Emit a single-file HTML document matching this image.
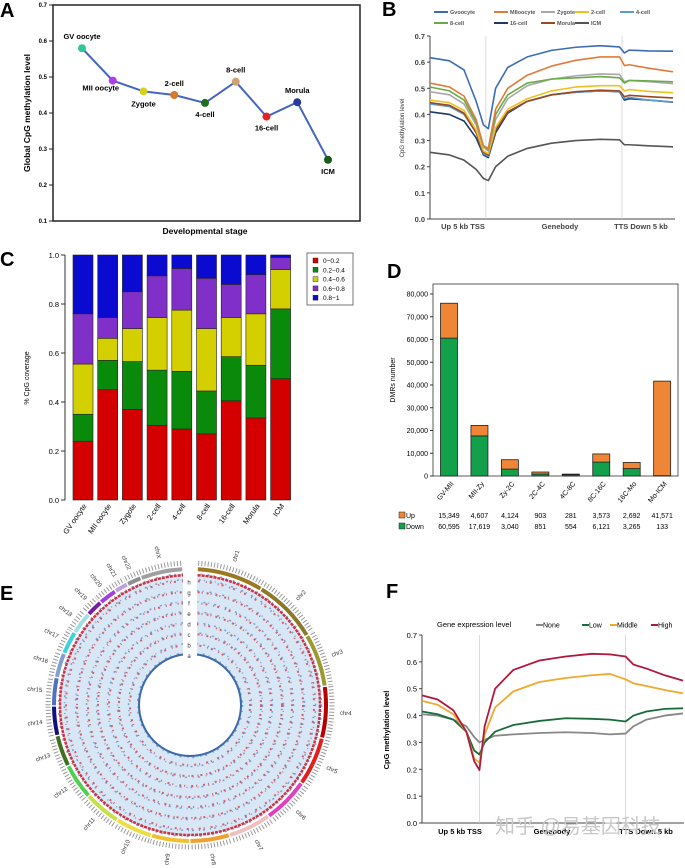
<!DOCTYPE html>
<html><head><meta charset="utf-8"><style>
body{margin:0;background:#fff}
svg{display:block;font-family:"Liberation Sans",Arial,sans-serif}
</style></head><body>
<svg id="fig" width="685" height="868" viewBox="0 0 685 868" xmlns="http://www.w3.org/2000/svg">
<g id="gA"></g>
<g id="gB"></g>
<g id="gC"></g>
<g id="gD"></g>
<g id="gE"></g>
<g id="gF"></g>
<text x="495" y="833" font-size="20" fill="#c8c8c8" font-family="'Liberation Sans','Noto Sans CJK SC',sans-serif">知乎 @易基因科技</text>
</svg>
<script>
// ---- Panel A data
const stagesA = ["GV oocyte","MII oocyte","Zygote","2-cell","4-cell","8-cell","16-cell","Morula","ICM"];
const valuesA = [0.58,0.49,0.46,0.45,0.428,0.487,0.39,0.43,0.27];
const colorsA = ["#2ec99a","#b23ce8","#d8d020","#d8782a","#1e6e1e","#d0a070","#e82020","#2a3a9a","#1a5a1a"];
const ticksA = [0.1,0.2,0.3,0.4,0.5,0.6,0.7];
// ---- Panel B data
const binsB = [0,8,14,19,22,24,27,32,40,50,60,70,78,80,82,90,100];
const seriesNamesB = ["Gvoocyte","MIIoocyte","Zygote","2-cell","4-cell","8-cell","16-cell","Morula","ICM"];
const gvB = [0.617,0.605,0.57,0.45,0.36,0.345,0.50,0.58,0.62,0.645,0.657,0.663,0.658,0.635,0.646,0.643,0.642];
const miiB = [0.52,0.505,0.47,0.38,0.28,0.27,0.42,0.50,0.55,0.585,0.607,0.62,0.62,0.587,0.59,0.577,0.563];
const zygB = [0.487,0.475,0.44,0.36,0.275,0.26,0.38,0.46,0.51,0.535,0.548,0.555,0.553,0.525,0.53,0.525,0.518];
const c2B = [0.455,0.445,0.415,0.34,0.26,0.25,0.35,0.42,0.46,0.49,0.505,0.51,0.51,0.49,0.495,0.488,0.483];
const c4B = [0.44,0.43,0.40,0.33,0.25,0.24,0.34,0.41,0.45,0.475,0.485,0.49,0.488,0.46,0.465,0.455,0.448];
const c8B = [0.505,0.49,0.455,0.37,0.28,0.265,0.40,0.475,0.52,0.535,0.54,0.545,0.54,0.52,0.53,0.528,0.525];
const c16B = [0.41,0.40,0.375,0.31,0.245,0.235,0.33,0.405,0.45,0.475,0.485,0.49,0.487,0.455,0.46,0.455,0.447];
const morB = [0.445,0.435,0.405,0.33,0.255,0.245,0.34,0.41,0.45,0.475,0.487,0.493,0.49,0.468,0.473,0.468,0.463];
const icmB = [0.255,0.245,0.225,0.19,0.155,0.147,0.20,0.24,0.27,0.29,0.30,0.305,0.303,0.284,0.284,0.28,0.276];
const colorsB = ["#3b6cb4","#e07b39","#a8a8a8","#f2c01e","#5b9bd5","#6aab45","#1f3864","#9a4a1e","#555555"];
const ticksB = [0,0.1,0.2,0.3,0.4,0.5,0.6,0.7];
// ---- Panel C data
const stagesC = ["GV oocyte","MII oocyte","Zygote","2-cell","4-cell","8-cell","16-cell","Morula","ICM"];
const c0_02 = [0.24,0.45,0.37,0.305,0.29,0.27,0.405,0.335,0.495];
const c02_04 = [0.11,0.12,0.195,0.225,0.235,0.175,0.18,0.215,0.285];
const c04_06 = [0.205,0.09,0.135,0.215,0.25,0.255,0.16,0.21,0.16];
const c06_08 = [0.205,0.085,0.15,0.17,0.17,0.205,0.135,0.16,0.05];
const c08_1 = [0.24,0.255,0.15,0.085,0.055,0.095,0.12,0.08,0.01];
const legendC = ["0\u22120.2","0.2\u22120.4","0.4\u22120.6","0.6\u22120.8","0.8\u22121"];
const colorsC = ["#d40000","#0a8a0a","#d4d000","#8030c8","#0a0ad0"];
const ticksC = [0,0.2,0.4,0.6,0.8,1.0];
// ---- Panel D data
const catsD = ["GV-MII","MII-Zy","Zy-2C","2C-4C","4C-8C","8C-16C","16C-Mo","Mo-ICM"];
const upD = [15349,4607,4124,903,281,3573,2692,41571];
const downD = [60595,17619,3040,851,554,6121,3265,133];
const upLabD = ["15,349","4,607","4,124","903","281","3,573","2,692","41,571"];
const downLabD = ["60,595","17,619","3,040","851","554","6,121","3,265","133"];
const ticksD = [0,10000,20000,30000,40000,50000,60000,70000,80000];
// ---- Panel E data
const chrNames = ["chr1","chr2","chr3","chr4","chr5","chr6","chr7","chr8","chr9","chr10","chr11","chr12","chr13","chr14","chr15","chr16","chr17","chr18","chr19","chr20","chr21","chr22","chrX"];
const chrLens = [249,243,198,191,181,171,159,146,141,136,135,133,115,107,102,90,83,80,59,64,47,51,156];
const chrColors = ["#9a7a20","#8a7a28","#9a9a30","#b80000","#e02020","#e040c0","#f0c0c0","#f0a030","#f0c030","#e8e040","#c8e040","#50d050","#407020","#101080","#5070c0","#80a0d0","#40d0e0","#a0e0e0","#7020a0","#a040e0","#c0a0e0","#909090","#a0a0a0"];
// ---- Panel F data
const binsF = [0,6,12,17,20,22,24,28,35,45,55,65,72,78,81,86,93,100];
const namesF = ["None","Low","Middle","High"];
const noneF = [0.405,0.40,0.385,0.36,0.32,0.30,0.31,0.325,0.33,0.335,0.338,0.335,0.33,0.333,0.36,0.385,0.40,0.408];
const lowF = [0.415,0.405,0.385,0.34,0.27,0.255,0.30,0.34,0.365,0.38,0.39,0.388,0.385,0.378,0.40,0.415,0.425,0.427];
const midF = [0.455,0.44,0.405,0.34,0.24,0.225,0.33,0.43,0.49,0.525,0.54,0.55,0.555,0.535,0.52,0.51,0.495,0.483];
const highF = [0.475,0.46,0.42,0.34,0.23,0.197,0.36,0.50,0.57,0.605,0.62,0.63,0.628,0.62,0.59,0.575,0.55,0.53];
const colorsF = ["#888888","#1a6b3c","#f0a830","#b0183c"];
const ticksF = [0,0.1,0.2,0.3,0.4,0.5,0.6,0.7];

const NS="http://www.w3.org/2000/svg";
function mk(parent,tag,attrs,text){const e=document.createElementNS(NS,tag);for(const k in attrs)e.setAttribute(k,attrs[k]);if(text!==undefined)e.textContent=text;parent.appendChild(e);return e;}

// ===== Panel A
(function(){
const g=document.getElementById('gA');
const x=i=>82+i*30.75, y=v=>221-(v-0.1)/0.6*216;
let t=mk(g,'text',{x:0,y:17,'font-size':20,'font-weight':'bold'},'A');


let r=mk(g,'rect',{x:53,y:5,width:307,height:216,fill:'none',stroke:'#222','stroke-width':1.5});


ticksA.forEach(v=>{
 mk(g,'line',{x1:49,x2:53,y1:y(v),y2:y(v),stroke:'#222'});
 let tt=mk(g,'text',{x:47,y:y(v)+2,'font-size':6,'font-weight':'bold','text-anchor':'end'},v.toFixed(1));
 
 
});
let yt=mk(g,'text',{x:0,y:0,'font-size':8.5,'font-weight':'bold','text-anchor':'middle',transform:'translate(30,113) rotate(-90)'},'Global CpG methylation level');


let xt=mk(g,'text',{x:205,y:234,'font-size':8.5,'font-weight':'bold','text-anchor':'middle'},'Developmental stage');


let pts=valuesA.map((v,i)=>x(i)+','+y(v)).join(' ');
let pl=mk(g,'polyline',{points:pts,fill:'none',stroke:'#4466c0','stroke-width':2});


const lo=[[0,-9],[-12,10],[0,15],[0,-9],[0,14],[0,-9],[0,14],[0,-9],[0,14]];
valuesA.forEach((v,i)=>{
 let c=mk(g,'circle',{cx:x(i),cy:y(v),r:4,fill:colorsA[i]});
 
 
 let l=mk(g,'text',{x:x(i)+lo[i][0],y:y(v)+lo[i][1],'font-size':7.5,'font-weight':'bold','text-anchor':'middle'},stagesA[i]);
 
 
});
})();

// ===== Panel B
(function(){
const g=document.getElementById('gB');
const x=b=>430+b/100*243, y=v=>219-v/0.7*183;
let t=mk(g,'text',{x:382,y:16,'font-size':20,'font-weight':'bold'},'B');


mk(g,'line',{x1:430,x2:430,y1:36,y2:219,stroke:'#444'});
mk(g,'line',{x1:430,x2:675,y1:219,y2:219,stroke:'#444'});
mk(g,'line',{x1:x(23),x2:x(23),y1:36,y2:219,stroke:'#ccc','stroke-width':0.7});
mk(g,'line',{x1:x(79),x2:x(79),y1:36,y2:219,stroke:'#ccc','stroke-width':0.7});
ticksB.forEach(v=>{
 mk(g,'line',{x1:427,x2:430,y1:y(v),y2:y(v),stroke:'#444'});
 let tt=mk(g,'text',{x:425,y:y(v)+3,'font-size':7.5,'font-weight':'bold','fill':'#444','text-anchor':'end'},v.toFixed(1));
 
 
});
let yt=mk(g,'text',{x:0,y:0,'font-size':6,'fill':'#333','text-anchor':'middle',transform:'translate(404,128) rotate(-90)'},'CpG methylation level');


[['Up 5 kb TSS',463],['Genebody',560],['TTS  Down 5 kb',641]].forEach(a=>{
 let xl=mk(g,'text',{x:a[1],y:229,'font-size':7.5,'font-weight':'bold','fill':'#444','text-anchor':'middle','xml:space':'preserve'},a[0]);
 
 
});
const all=[gvB,miiB,zygB,c2B,c4B,c8B,c16B,morB,icmB];
const order=[8,6,4,7,3,2,5,1,0];
order.forEach(i=>{
 let pts=all[i].map((v,k)=>x(binsB[k])+','+y(v)).join(' ');
 let pl=mk(g,'polyline',{points:pts,fill:'none',stroke:colorsB[i],'stroke-width':1.6,'stroke-linejoin':'round'});
 
 
});
const lx=[434,494,541,575,620], rows=[12,23];
seriesNamesB.forEach((n,i)=>{
 const r=i<5?0:1, c=i<5?i:i-5;
 const px=[434,494,541,575,620][c];
 let le=mk(g,'g',{});
 
 
 mk(le,'line',{x1:px,x2:px+14,y1:rows[r],y2:rows[r],stroke:colorsB[i],'stroke-width':2});
 mk(le,'text',{x:px+16,y:rows[r]+2,'font-size':5.5,'font-weight':'bold','fill':'#555'},n);
});
})();

// ===== Panel C
(function(){
const g=document.getElementById('gC');
const y=v=>500-v*245;
let t=mk(g,'text',{x:0,y:266,'font-size':20,'font-weight':'bold'},'C');


mk(g,'line',{x1:65,x2:65,y1:y(0),y2:y(1),stroke:'#333'});
ticksC.forEach(v=>{
 mk(g,'line',{x1:61,x2:65,y1:y(v),y2:y(v),stroke:'#333'});
 let tt=mk(g,'text',{x:59,y:y(v)+3,'font-size':7.5,'text-anchor':'end'},v.toFixed(1));
 
 
});
let yt=mk(g,'text',{x:0,y:0,'font-size':7,'text-anchor':'middle',transform:'translate(29,378) rotate(-90)'},'% CpG coverage');


const segs=[c0_02,c02_04,c04_06,c06_08,c08_1];
stagesC.forEach((s,i)=>{
 const bx=73+i*24.7; let cum=0;
 segs.forEach((arr,k)=>{
  const v=arr[i];
  let r=mk(g,'rect',{x:bx,y:y(cum+v),width:20,height:v*245,fill:colorsC[k],stroke:'#222','stroke-width':0.6});
  
  
  cum+=v;
 });
 let xl=mk(g,'text',{x:0,y:0,'font-size':7.5,'text-anchor':'end',transform:`translate(${bx+14},506) rotate(-55)`},s);
 
 
});
let lg=mk(g,'g',{});


mk(lg,'rect',{x:307,y:253,width:46,height:52,fill:'#fff',stroke:'#555','stroke-width':0.8});
legendC.forEach((n,k)=>{
 let le=mk(lg,'g',{});
 
 
 mk(le,'rect',{x:313,y:258+k*9.3,width:5,height:5,fill:colorsC[k],stroke:'#222','stroke-width':0.4});
 mk(le,'text',{x:323,y:263+k*9.3,'font-size':6.5},n);
});
})();

// ===== Panel D
(function(){
const g=document.getElementById('gD');
const y=v=>476-v/10000*22.75, cx=i=>449+i*30.45;
let t=mk(g,'text',{x:387,y:278,'font-size':20,'font-weight':'bold'},'D');


mk(g,'rect',{x:433,y:284,width:245,height:192,fill:'none',stroke:'#333','stroke-width':0.8});
ticksD.forEach(v=>{
 mk(g,'line',{x1:430,x2:433,y1:y(v),y2:y(v),stroke:'#333'});
 let tt=mk(g,'text',{x:428,y:y(v)+2.5,'font-size':7,'text-anchor':'end'},v.toLocaleString('en-US'));
 
 
});
let yt=mk(g,'text',{x:0,y:0,'font-size':7,'text-anchor':'middle',transform:'translate(395,380) rotate(-90)'},'DMRs number');


catsD.forEach((c,i)=>{
 const d=downD[i], u=upD[i];
 let r1=mk(g,'rect',{x:cx(i)-8.5,y:y(d),width:17,height:476-y(d),fill:'#12a04a',stroke:'#222','stroke-width':0.8});
 
 
 let r2=mk(g,'rect',{x:cx(i)-8.5,y:y(d+u),width:17,height:y(d)-y(d+u),fill:'#ee8636',stroke:'#222','stroke-width':0.8});
 
 
 let xl=mk(g,'text',{x:0,y:0,'font-size':7,'text-anchor':'end',transform:`translate(${cx(i)+5},484) rotate(-50)`},c);
 
 
 let a=mk(g,'text',{x:cx(i),y:518,'font-size':7,'text-anchor':'middle'},upLabD[i]);
 
 
 let b=mk(g,'text',{x:cx(i),y:529,'font-size':7,'text-anchor':'middle'},downLabD[i]);
 
 
});
mk(g,'rect',{x:399,y:512,width:6,height:6,fill:'#ee8636',stroke:'#222','stroke-width':0.5});
mk(g,'text',{x:406,y:518,'font-size':7},'Up');
mk(g,'rect',{x:399,y:523,width:6,height:6,fill:'#12a04a',stroke:'#222','stroke-width':0.5});
mk(g,'text',{x:406,y:529,'font-size':7},'Down');
})();

// ===== Panel E (circos)
(function(){
const g=document.getElementById('gE');
const CX=190, CY=705;
let t=mk(g,'text',{x:0,y:600,'font-size':20,'font-weight':'bold'},'E');


let disc=mk(g,'circle',{cx:CX,cy:CY,r:91,fill:'none',stroke:'#d8e7f5','stroke-width':80});


const radii=[51,60,71,81,92,102,113,124,130];
radii.forEach((r,k)=>{
 const red=mk(g,'circle',{cx:CX,cy:CY,r:r,fill:'none',stroke:'#d03040','stroke-width':k==8?2.5:2,'stroke-dasharray':k==8?'3 1':(k%2?'1 3 2 6':'2 2 1 4'),opacity:k==8?1:0.75});
 
 
 const blue=mk(g,'circle',{cx:CX,cy:CY,r:r+1.5,fill:'none',stroke:'#4070b0','stroke-width':1.5,'stroke-dasharray':(k%2?'1 5 2 3':'2 4 1 6'),opacity:0.6});
 
 
});
mk(g,'circle',{cx:CX,cy:CY,r:51,fill:'none',stroke:'#3a6ab0','stroke-width':2});
mk(g,'circle',{cx:CX,cy:CY,r:49,fill:'#fff'});
// chromosome arcs
const total=chrLens.reduce((a,b)=>a+b,0), gap=6, avail=360-gap-chrLens.length*0.6;
let ang=gap/2+0.3;
const pol=(r,a)=>[CX+r*Math.sin(a*Math.PI/180),CY-r*Math.cos(a*Math.PI/180)];
chrNames.forEach((n,i)=>{
 const span=chrLens[i]/total*avail;
 const a0=ang,a1=ang+span;
 const p0=pol(136,a0),p1=pol(136,a1);
 let arc=mk(g,'path',{d:`M${p0[0]},${p0[1]} A136,136 0 ${span>180?1:0} 1 ${p1[0]},${p1[1]}`,fill:'none',stroke:chrColors[i],'stroke-width':4});
 
 
 const q0=pol(142,a0),q1=pol(142,a1);
 mk(g,'path',{d:`M${q0[0]},${q0[1]} A142,142 0 ${span>180?1:0} 1 ${q1[0]},${q1[1]}`,fill:'none',stroke:'#999','stroke-width':5,'stroke-dasharray':'1 2.2'});
 const mid=(a0+a1)/2, lp=pol(156,mid);
 let rot=mid>180?mid+90:mid-90;
 let l=mk(g,'text',{x:lp[0],y:lp[1],'font-size':6,'fill':'#333','text-anchor':'middle','dominant-baseline':'middle',transform:`rotate(${rot} ${lp[0]} ${lp[1]})`},n);
 
 
 ang=a1+0.6;
});
mk(g,'rect',{x:183,y:565,width:14,height:92,fill:'#fff'});
['a','b','c','d','e','f','g','h'].forEach((c,k)=>{
 let l=mk(g,'text',{x:189,y:658-k*10.5,'font-size':6,'text-anchor':'middle','fill':'#333'},c);
 
 
});
})();

// ===== Panel F
(function(){
const g=document.getElementById('gF');
const x=b=>422+b/100*261, y=v=>823-v/0.7*188;
let t=mk(g,'text',{x:386,y:598,'font-size':20,'font-weight':'bold'},'F');


mk(g,'line',{x1:422,x2:422,y1:635,y2:823,stroke:'#444'});
mk(g,'line',{x1:422,x2:684,y1:823,y2:823,stroke:'#444'});
mk(g,'line',{x1:x(22),x2:x(22),y1:635,y2:823,stroke:'#ccc','stroke-width':0.7});
mk(g,'line',{x1:x(78),x2:x(78),y1:635,y2:823,stroke:'#ccc','stroke-width':0.7});
ticksF.forEach(v=>{
 mk(g,'line',{x1:419,x2:422,y1:y(v),y2:y(v),stroke:'#444'});
 let tt=mk(g,'text',{x:417,y:y(v)+3,'font-size':7.5,'text-anchor':'end'},v.toFixed(1));
 
 
});
let yt=mk(g,'text',{x:0,y:0,'font-size':7.5,'font-weight':'bold','text-anchor':'middle',transform:'translate(389,730) rotate(-90)'},'CpG methylation level');


[['Up 5 kb  TSS',460],['Genebody',552],['TTS  Down 5 kb',646]].forEach(a=>{
 let xl=mk(g,'text',{x:a[1],y:834,'font-size':7.5,'font-weight':'bold','text-anchor':'middle','xml:space':'preserve'},a[0]);
 
 
});
const all=[noneF,lowF,midF,highF];
all.forEach((arr,i)=>{
 let pts=arr.map((v,k)=>x(binsF[k])+','+y(v)).join(' ');
 let pl=mk(g,'polyline',{points:pts,fill:'none',stroke:colorsF[i],'stroke-width':1.8,'stroke-linejoin':'round'});
 
 
});
let lt=mk(g,'text',{x:437,y:627,'font-size':7.5,'xml:space':'preserve'},'Gene  expression level');


const lx=[535,587,618,664];
namesF.forEach((n,i)=>{
 const px=[536,582,610,651][i];
 let le=mk(g,'g',{});
 
 
 mk(le,'line',{x1:px,x2:px+7,y1:625,y2:625,stroke:colorsF[i],'stroke-width':2});
 mk(le,'text',{x:px+7,y:627.5,'font-size':7},n);
});
})();
</script>
</body></html>
